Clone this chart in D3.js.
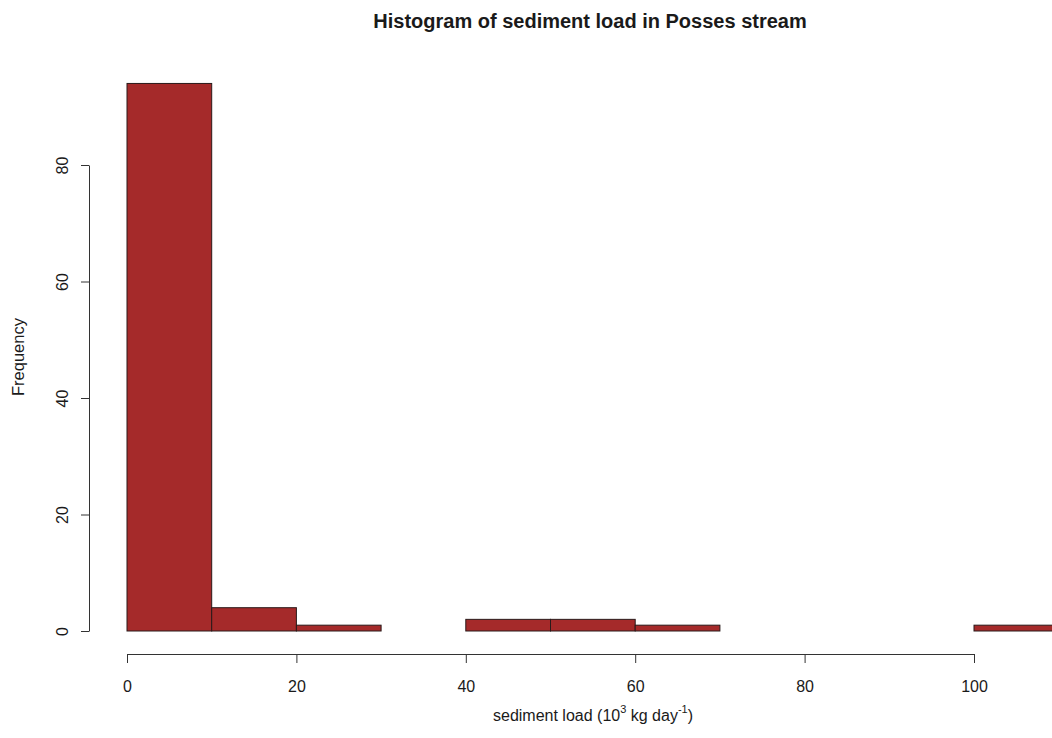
<!DOCTYPE html>
<html>
    <head>
        <style>
            body { margin: 0; background: #fff; }
            svg text { font-family: "Liberation Sans", Arial, sans-serif; fill: #1a1a1a; }
            .title { font-weight: bold; font-size: 20px; }
            .axis text { font-size: 16px; }
            .axis path, .axis line { stroke: #333; }
            .bar { fill: #a52a2a; stroke: #2a1a1a; stroke-width: 1; }
        </style>
        <script src="https://d3js.org/d3.v7.min.js"></script>
    </head>
    <body>
        <svg width="1052" height="738"></svg>
        <script>
            // histogram bins (lower edges, width 10) and counts
            var binStarts = [0, 10, 20, 30, 40, 50, 60, 70, 80, 90, 100];
            var counts = [94, 4, 1, 0, 2, 2, 1, 0, 0, 0, 1];
            var binWidth = 10;
            var xTicks = [0, 20, 40, 60, 80, 100];
            var yTicks = [0, 20, 40, 60, 80];

            var svg = d3.select("svg"),
                width = +svg.attr("width"),
                height = +svg.attr("height");

            var x = d3.scaleLinear().domain([0, 100]).range([127, 974]);
            var y = d3.scaleLinear().domain([0, 80]).range([631, 165]);

            var bins = binStarts.map(function(b, i) {
                return { x0: b, x1: b + binWidth, n: counts[i] };
            });

            svg.append("g")
               .selectAll("rect")
               .data(bins)
               .enter().append("rect")
               .attr("class", "bar")
               .attr("x", function(d) { return x(d.x0); })
               .attr("width", function(d) { return x(d.x1) - x(d.x0); })
               .attr("y", function(d) { return y(d.n); })
               .attr("height", function(d) { return y(0) - y(d.n); });

            // x axis
            var xAxis = svg.append("g")
               .attr("class", "axis")
               .attr("transform", "translate(0,654)")
               .call(d3.axisBottom(x).tickValues(xTicks).tickSize(9).tickSizeOuter(0));
            xAxis.selectAll("text").attr("y", 27);

            // y axis, labels parallel to the axis like R
            var yAxis = svg.append("g")
               .attr("class", "axis")
               .attr("transform", "translate(89,0)")
               .call(d3.axisLeft(y).tickValues(yTicks).tickSize(8).tickSizeOuter(0));
            yAxis.selectAll(".tick text")
               .attr("x", 0)
               .attr("dy", 0)
               .attr("y", -21)
               .attr("transform", "rotate(-90)")
               .style("text-anchor", "middle");

            svg.append("text")
               .attr("class", "title")
               .attr("x", 590)
               .attr("y", 28)
               .attr("text-anchor", "middle")
               .text("Histogram of sediment load in Posses stream");

            svg.append("text")
               .attr("transform", "translate(24,357) rotate(-90)")
               .attr("text-anchor", "middle")
               .style("font-size", "16.5px")
               .text("Frequency");

            var xl = svg.append("text")
               .attr("x", 593)
               .attr("y", 721)
               .attr("text-anchor", "middle")
               .style("font-size", "16px");
            xl.append("tspan").text("sediment load (10");
            xl.append("tspan").attr("dy", -8).style("font-size", "11px").text("3");
            xl.append("tspan").attr("dy", 8).text(" kg day");
            xl.append("tspan").attr("dy", -8).style("font-size", "11px").text("-1");
            xl.append("tspan").attr("dy", 8).text(")");
        </script>
    </body>
</html>
